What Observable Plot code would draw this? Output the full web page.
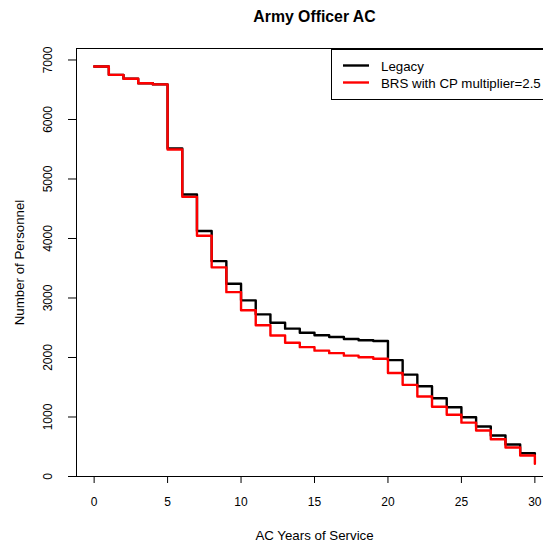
<!DOCTYPE html>
<html><head><meta charset="utf-8">
<script src="https://cdn.jsdelivr.net/npm/d3@7"></script>
<script src="https://cdn.jsdelivr.net/npm/@observablehq/plot@0.6"></script>
<style>html,body{margin:0;padding:0;overflow:hidden;background:#fff}</style>
</head><body><div id="chart"></div>
<script>
const years = [0,1,2,3,4,5,6,7,8,9,10,11,12,13,14,15,16,17,18,19,20,21,22,23,24,25,26,27,28,29,30];
const legacy = [6890,6750,6685,6610,6590,5515,4740,4125,3620,3240,2960,2725,2585,2485,2415,2375,2345,2310,2290,2277,1955,1712,1518,1316,1165,997,840,689,538,392,370];
const brs = [6890,6750,6685,6610,6590,5495,4700,4045,3515,3098,2795,2543,2370,2247,2174,2115,2073,2031,2005,1978,1740,1540,1345,1171,1037,905,773,627,487,353,215];
const seriesNames = ["Legacy", "BRS with CP multiplier=2.5"];
const seriesColors = ["#000000", "#ff0000"];
const xTicks = [0,5,10,15,20,25,30];
const yTicks = [0,1000,2000,3000,4000,5000,6000,7000];
const titleText = "Army Officer AC";
const xLabel = "AC Years of Service";
const yLabel = "Number of Personnel";

const font = "'Liberation Sans', Arial, Helvetica, sans-serif";
const legacyData = years.map((y, i) => ({year: y, value: legacy[i]}));
const brsData = years.map((y, i) => ({year: y, value: brs[i]}));

const chart = Plot.plot({
  width: 543,
  height: 543,
  marginLeft: 76,
  marginRight: -9,
  marginTop: 48,
  marginBottom: 67,
  style: {fontFamily: font, background: "#fff", color: "#000"},
  x: {domain: [-1.2, 31.2]},
  y: {domain: [0, 7193]},
  marks: [
    Plot.frame({stroke: "#000", strokeWidth: 1}),
    Plot.axisX({ticks: xTicks, tickSize: 7, tickPadding: 14, fontSize: 12, label: null, stroke: "#000"}),
    Plot.axisY({ticks: yTicks, tickSize: 8, tickFormat: () => "", label: null, stroke: "#000"}),
    Plot.text(yTicks, {y: d => d, frameAnchor: "left", dx: -28, rotate: -90, textAnchor: "middle", lineAnchor: "middle", fontSize: 12, text: d => String(d), fill: "#000"}),
    Plot.line(legacyData, {x: "year", y: "value", curve: "step-after", stroke: seriesColors[0], strokeWidth: 2.4}),
    Plot.line(brsData, {x: "year", y: "value", curve: "step-after", stroke: seriesColors[1], strokeWidth: 2.4}),
    Plot.text([titleText], {frameAnchor: "top", dy: -27, lineAnchor: "bottom", fontSize: 15.8, fontWeight: "bold", fill: "#000"}),
    Plot.text([xLabel], {frameAnchor: "bottom", dy: 63, lineAnchor: "bottom", fontSize: 13.3, fill: "#000"}),
    Plot.text([yLabel], {frameAnchor: "left", dx: -57, rotate: -90, lineAnchor: "middle", textAnchor: "middle", fontSize: 13.3, fill: "#000"})
  ]
});
document.getElementById("chart").appendChild(chart);

// legend (R-style box, top-right)
const svg = d3.select(chart);
const lg = svg.append("g").attr("font-family", font).attr("font-size", 13.3).attr("text-anchor", "start");
lg.append("rect").attr("x", 331.5).attr("y", 49.5).attr("width", 240).attr("height", 50)
  .attr("fill", "#fff").attr("stroke", "#000").attr("stroke-width", 1);
seriesNames.forEach((name, i) => {
  const cy = 65.5 + i * 17;
  lg.append("line").attr("x1", 343).attr("x2", 369).attr("y1", cy).attr("y2", cy)
    .attr("stroke", seriesColors[i]).attr("stroke-width", 2.4);
  lg.append("text").attr("x", 381).attr("y", cy + 5.5).attr("fill", "#000")
    .attr("text-anchor", "start").text(name);
});
</script></body></html>
